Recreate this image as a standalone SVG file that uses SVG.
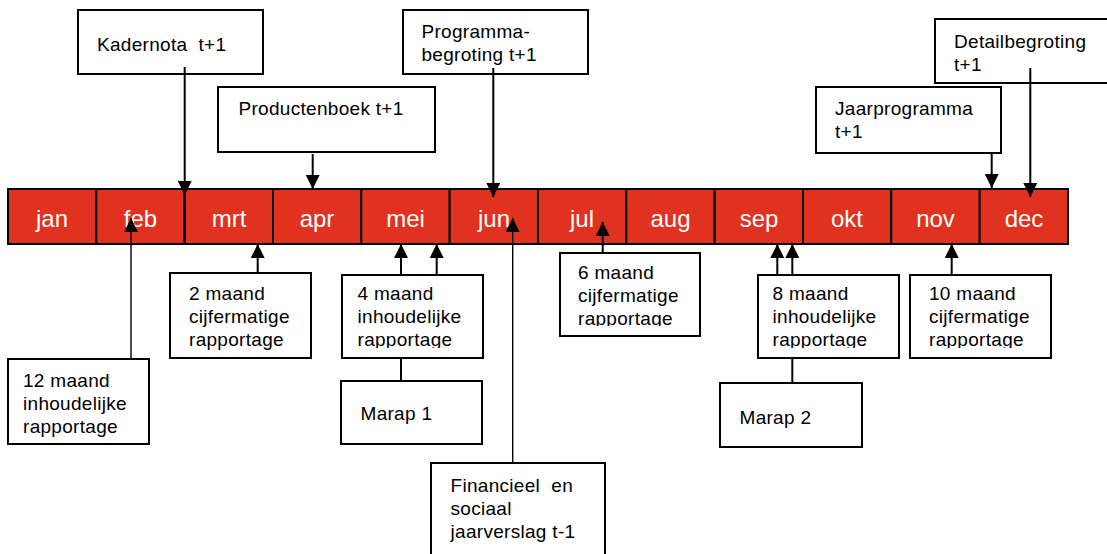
<svg xmlns="http://www.w3.org/2000/svg" width="1107" height="554" viewBox="0 0 1107 554">
<style>
.box{fill:#fff;stroke:#000;stroke-width:2}
.cell{fill:#E0321F;stroke:#000;stroke-width:2}
.m{font-family:"Liberation Sans",Arial,sans-serif;font-size:24px;fill:#fff;text-anchor:middle}
.t{font-family:"Liberation Sans",Arial,sans-serif;font-size:19px;fill:#000;letter-spacing:0.3px}
.ln{stroke:#000;stroke-width:2;fill:none}
.thin{stroke:#000;stroke-width:1.4;fill:none}
</style>
<defs>
<marker id="ah" markerUnits="userSpaceOnUse" viewBox="0 0 14 14" markerWidth="14" markerHeight="14" refX="14" refY="7" orient="auto">
<path d="M0,0 L14,7 L0,14 Z" fill="#000"/>
</marker>
<clipPath id="c4"><rect x="340" y="270" width="150" height="78"/></clipPath>
<clipPath id="c6"><rect x="555" y="250" width="150" height="76"/></clipPath>
<clipPath id="c8"><rect x="755" y="270" width="150" height="78"/></clipPath>
<clipPath id="c10"><rect x="905" y="270" width="150" height="78"/></clipPath>
</defs>
<rect width="1107" height="554" fill="#fff"/>
<g id="timeline">
<rect class="cell" x="8" y="189" width="88.3" height="55"/>
<rect class="cell" x="96.3" y="189" width="88.4" height="55"/>
<rect class="cell" x="184.7" y="189" width="88.3" height="55"/>
<rect class="cell" x="273" y="189" width="88.3" height="55"/>
<rect class="cell" x="361.3" y="189" width="88.4" height="55"/>
<rect class="cell" x="449.7" y="189" width="88.3" height="55"/>
<rect class="cell" x="538" y="189" width="88.3" height="55"/>
<rect class="cell" x="626.3" y="189" width="88.4" height="55"/>
<rect class="cell" x="714.7" y="189" width="88.3" height="55"/>
<rect class="cell" x="803" y="189" width="88.3" height="55"/>
<rect class="cell" x="891.3" y="189" width="88.4" height="55"/>
<rect class="cell" x="979.7" y="189" width="88.3" height="55"/>
<text class="m" x="52" y="227">jan</text>
<text class="m" x="140.5" y="227">feb</text>
<text class="m" x="229" y="227">mrt</text>
<text class="m" x="317" y="227">apr</text>
<text class="m" x="405.5" y="227">mei</text>
<text class="m" x="494" y="227">jun</text>
<text class="m" x="582" y="227">jul</text>
<text class="m" x="670.5" y="227">aug</text>
<text class="m" x="759" y="227">sep</text>
<text class="m" x="847" y="227">okt</text>
<text class="m" x="935.5" y="227">nov</text>
<text class="m" x="1024" y="227">dec</text>
</g>
<g id="kadernota">
<rect class="box" x="78" y="10" width="185" height="64"/>
<text class="t" x="97" y="51">Kadernota&#160; t+1</text>
</g>
<g id="productenboek">
<rect class="box" x="218" y="87" width="217" height="65"/>
<text class="t" x="238.5" y="115">Productenboek t+1</text>
</g>
<g id="programmabegroting">
<rect class="box" x="403" y="10" width="185" height="64"/>
<text class="t" x="421.5" y="38">Programma-</text>
<text class="t" x="421.5" y="61">begroting t+1</text>
</g>
<g id="jaarprogramma">
<rect class="box" x="816" y="87" width="185" height="66"/>
<text class="t" x="835" y="115">Jaarprogramma</text>
<text class="t" x="835" y="138">t+1</text>
</g>
<g id="detailbegroting">
<rect class="box" x="935" y="19" width="190" height="64"/>
<text class="t" x="954" y="48">Detailbegroting</text>
<text class="t" x="954" y="71">t+1</text>
</g>
<g id="r12">
<rect class="box" x="8" y="359" width="141" height="85"/>
<text class="t" x="23" y="387">12 maand</text>
<text class="t" x="23" y="410">inhoudelijke</text>
<text class="t" x="23" y="433">rapportage</text>
</g>
<g id="r2">
<rect class="box" x="170" y="273" width="141" height="85"/>
<text class="t" x="189" y="300">2 maand</text>
<text class="t" x="189" y="323">cijfermatige</text>
<text class="t" x="189" y="346">rapportage</text>
</g>
<g id="r4">
<rect class="box" x="342" y="275" width="141" height="83"/>
<g clip-path="url(#c4)">
<text class="t" x="357.5" y="300">4 maand</text>
<text class="t" x="357.5" y="323">inhoudelijke</text>
<text class="t" x="357.5" y="346">rapportage</text>
</g>
</g>
<g id="marap1">
<rect class="box" x="341" y="381" width="141" height="63"/>
<text class="t" x="360.5" y="420">Marap 1</text>
</g>
<g id="financieel">
<rect class="box" x="431" y="463" width="174" height="100"/>
<text class="t" x="450.5" y="492">Financieel&#160; en</text>
<text class="t" x="450.5" y="515">sociaal</text>
<text class="t" x="450.5" y="538">jaarverslag t-1</text>
</g>
<g id="r6">
<rect class="box" x="560" y="253" width="140" height="83"/>
<g clip-path="url(#c6)">
<text class="t" x="578" y="279">6 maand</text>
<text class="t" x="578" y="302">cijfermatige</text>
<text class="t" x="578" y="325">rapportage</text>
</g>
</g>
<g id="r8">
<rect class="box" x="758" y="275" width="141" height="83"/>
<g clip-path="url(#c8)">
<text class="t" x="772.5" y="300">8 maand</text>
<text class="t" x="772.5" y="323">inhoudelijke</text>
<text class="t" x="772.5" y="346">rapportage</text>
</g>
</g>
<g id="marap2">
<rect class="box" x="720" y="383" width="142" height="64"/>
<text class="t" x="739.5" y="424">Marap 2</text>
</g>
<g id="r10">
<rect class="box" x="910" y="275" width="141" height="83"/>
<g clip-path="url(#c10)">
<text class="t" x="929" y="300">10 maand</text>
<text class="t" x="929" y="323">cijfermatige</text>
<text class="t" x="929" y="346">rapportage</text>
</g>
</g>
<g id="connectors">
<path class="ln" d="M184.7,67 V195" marker-end="url(#ah)"/>
<path class="ln" d="M184.7,195 V244"/>
<path class="ln" d="M312.7,154 V189" marker-end="url(#ah)"/>
<path class="ln" d="M493.3,68 V197" marker-end="url(#ah)"/>
<path class="ln" d="M991.7,154 V188" marker-end="url(#ah)"/>
<path class="ln" d="M1030.3,68 V197" marker-end="url(#ah)"/>
<path class="thin" d="M131,359 V218" marker-end="url(#ah)"/>
<path class="ln" d="M257.7,273 V244" marker-end="url(#ah)"/>
<path class="ln" d="M401,275 V244" marker-end="url(#ah)"/>
<path class="ln" d="M436.7,275 V244" marker-end="url(#ah)"/>
<path class="ln" d="M401,358 V381"/>
<path class="thin" d="M512.7,463 V218" marker-end="url(#ah)"/>
<path class="ln" d="M602.7,253 V222" marker-end="url(#ah)"/>
<path class="ln" d="M777.3,275 V244" marker-end="url(#ah)"/>
<path class="ln" d="M792.3,275 V244" marker-end="url(#ah)"/>
<path class="ln" d="M792.3,358 V383"/>
<path class="ln" d="M951.7,275 V244" marker-end="url(#ah)"/>
</g>
</svg>
